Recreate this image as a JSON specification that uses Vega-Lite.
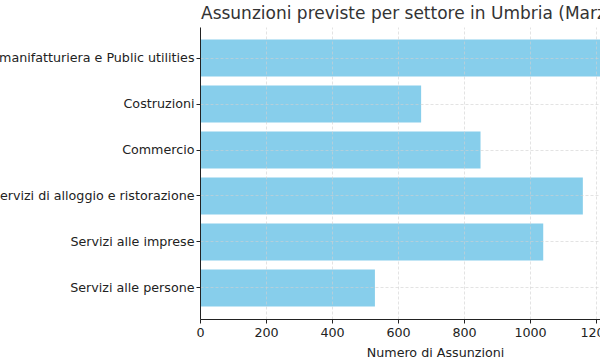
{
  "$schema": "https://vega.github.io/schema/vega-lite/v6.json",
  "autosize": {"type": "none"},
  "width": 400,
  "height": 292,
  "padding": {"left": 200, "top": 27, "right": 0, "bottom": 41},
  "background": "white",
  "config": {
    "font": "DejaVu Sans",
    "view": {"stroke": null},
    "axis": {"labelFont": "DejaVu Sans", "titleFont": "DejaVu Sans", "labelColor": "#222222", "titleColor": "#222222", "domainColor": "#222222", "tickColor": "#222222"}
  },
  "title": {
    "text": "Assunzioni previste per settore in Umbria (Marzo 2024)",
    "anchor": "start",
    "frame": "group",
    "font": "DejaVu Sans",
    "fontSize": 17,
    "fontWeight": "normal",
    "color": "#333333",
    "offset": 4,
    "dx": 1
  },
  "data": {
    "values": [
      {"settore": "Industria manifatturiera e Public utilities", "assunzioni": 1360},
      {"settore": "Costruzioni", "assunzioni": 670},
      {"settore": "Commercio", "assunzioni": 850},
      {"settore": "Servizi di alloggio e ristorazione", "assunzioni": 1160},
      {"settore": "Servizi alle imprese", "assunzioni": 1040},
      {"settore": "Servizi alle persone", "assunzioni": 530}
    ]
  },
  "mark": {"type": "bar", "color": "#87CEEB", "clip": true},
  "encoding": {
    "y": {
      "field": "settore",
      "type": "nominal",
      "sort": null,
      "scale": {"paddingInner": 0.2, "paddingOuter": 0.274},
      "axis": {
        "title": null,
        "labelFontSize": 12.7,
        "labelLimit": 0,
        "tickSize": 4,
        "labelPadding": 2,
        "grid": true,
        "bandPosition": 0.5,
        "gridColor": "#d0d0d0",
        "gridDash": [3, 2],
        "gridOpacity": 0.6,
        "zindex": 1
      }
    },
    "x": {
      "field": "assunzioni",
      "type": "quantitative",
      "scale": {"domain": [0, 1212], "nice": false},
      "axis": {
        "title": "Numero di Assunzioni",
        "titleFontSize": 12.7,
        "titleFontWeight": "normal",
        "titleX": 235,
        "titleY": 37,
        "titleBaseline": "alphabetic",
        "labelFontSize": 12.7,
        "labelPadding": 3,
        "tickSize": 4,
        "format": "d",
        "values": [0, 200, 400, 600, 800, 1000, 1200],
        "labelFlush": false,
        "labelOverlap": false,
        "grid": true,
        "gridColor": "#d0d0d0",
        "gridDash": [3, 2],
        "gridOpacity": 0.6,
        "zindex": 1
      }
    }
  }
}
